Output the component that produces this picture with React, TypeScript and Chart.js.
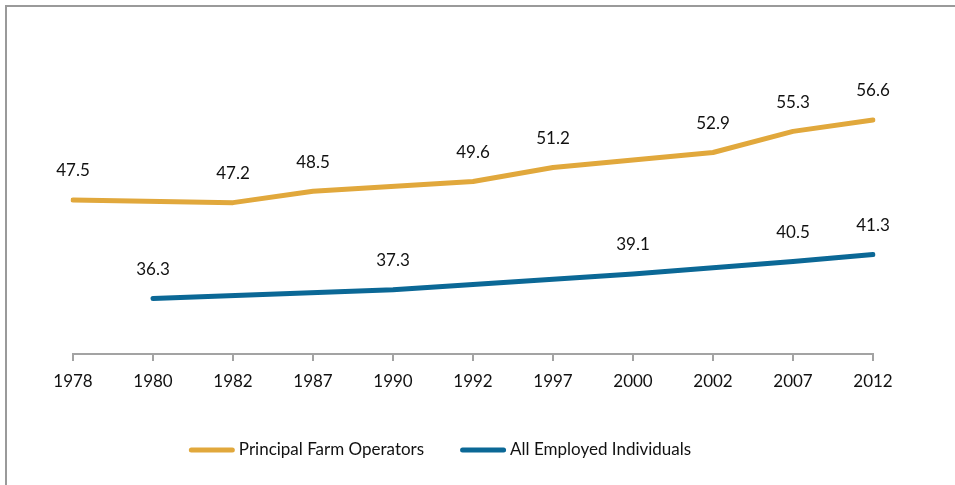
import React, { useEffect, useRef } from "react";
import { Chart, registerables } from "chart.js";

Chart.register(...registerables);

const categories = ["1978", "1980", "1982", "1987", "1990", "1992", "1997", "2000", "2002", "2007", "2012"];
const farmOperators: (number | null)[] = [47.5, null, 47.2, 48.5, null, 49.6, 51.2, null, 52.9, 55.3, 56.6];
const employedIndividuals: (number | null)[] = [null, 36.3, null, null, 37.3, null, null, 39.1, null, 40.5, 41.3];
const seriesNames = ["Principal Farm Operators", "All Employed Individuals"];
const seriesColors = ["#E1A83C", "#0B6896"];

const FONT = "Lato, 'Noto Sans', sans-serif";

const framePlugin = {
  id: "frame",
  beforeDraw(chart: any) {
    const ctx = chart.ctx;
    ctx.save();
    ctx.fillStyle = "#ffffff";
    ctx.fillRect(0, 0, chart.width, chart.height);
    ctx.strokeStyle = "#9a9a9a";
    ctx.lineWidth = 2;
    ctx.beginPath();
    ctx.moveTo(6, chart.height + 5);
    ctx.lineTo(6, 6);
    ctx.lineTo(chart.width + 5, 6);
    ctx.stroke();
    ctx.restore();
  },
};

const labelPlugin = {
  id: "valueLabels",
  afterDatasetsDraw(chart: any) {
    const ctx = chart.ctx;
    ctx.save();
    ctx.font = `17px ${FONT}`;
    ctx.fillStyle = "#111111";
    ctx.textAlign = "center";
    ctx.textBaseline = "middle";
    chart.data.datasets.forEach((ds: any, i: number) => {
      const meta = chart.getDatasetMeta(i);
      meta.data.forEach((pt: any, j: number) => {
        const v = ds.data[j];
        if (v === null || v === undefined) return;
        ctx.fillText(Number(v).toFixed(1), pt.x, pt.y - 29);
      });
    });
    ctx.restore();
  },
};

const legendPlugin = {
  id: "customLegend",
  afterDraw(chart: any) {
    const ctx = chart.ctx;
    ctx.save();
    ctx.font = `17px ${FONT}`;
    ctx.textBaseline = "middle";
    ctx.textAlign = "left";
    const y = 450;
    const swatch = 46;
    const gapText = 4;
    const gapItem = 36;
    const widths = seriesNames.map((n) => ctx.measureText(n).width);
    const total = widths.reduce((a, w) => a + swatch + gapText + w, 0) + gapItem;
    let x = 440 - total / 2;
    seriesNames.forEach((name, i) => {
      ctx.strokeStyle = seriesColors[i];
      ctx.lineWidth = 5;
      ctx.lineCap = "round";
      ctx.beginPath();
      ctx.moveTo(x + 2.5, y);
      ctx.lineTo(x + swatch - 2.5, y);
      ctx.stroke();
      ctx.fillStyle = "#111111";
      ctx.fillText(name, x + swatch + gapText, y);
      x += swatch + gapText + widths[i] + gapItem;
    });
    ctx.restore();
  },
};

export default function App() {
  const ref = useRef<HTMLCanvasElement | null>(null);
  useEffect(() => {
    if (!ref.current) return;
    const chart = new Chart(ref.current, {
      type: "line",
      data: {
        labels: categories,
        datasets: [
          {
            label: seriesNames[0],
            data: farmOperators,
            borderColor: seriesColors[0],
            backgroundColor: seriesColors[0],
            borderWidth: 5,
            borderCapStyle: "round",
            borderJoinStyle: "round",
            pointRadius: 0,
            spanGaps: true,
            tension: 0,
          },
          {
            label: seriesNames[1],
            data: employedIndividuals,
            borderColor: seriesColors[1],
            backgroundColor: seriesColors[1],
            borderWidth: 5,
            borderCapStyle: "round",
            borderJoinStyle: "round",
            pointRadius: 0,
            spanGaps: true,
            tension: 0,
          },
        ],
      },
      options: {
        responsive: false,
        animation: false,
        layout: { padding: { left: 73, right: 82, top: 90, bottom: 81 } },
        plugins: { legend: { display: false }, tooltip: { enabled: false } },
        scales: {
          x: {
            offset: false,
            border: { display: true, color: "#a3a3a3", width: 2 },
            grid: { display: true, drawOnChartArea: false, drawTicks: true, tickLength: 7, color: "#a3a3a3", lineWidth: 2 },
            ticks: { color: "#111111", font: { family: FONT, size: 17 }, padding: 10, maxRotation: 0, autoSkip: false },
            afterFit: (s: any) => { s.height = 50; },
          },
          y: {
            display: false,
            min: 30,
            max: 60,
          },
        },
      },
      plugins: [framePlugin, labelPlugin, legendPlugin],
    });
    return () => chart.destroy();
  }, []);
  return (
    <div style={{ position: "absolute", left: 0, top: 0, width: 955, height: 485 }}>
      <canvas ref={ref} width={955} height={485} style={{ display: "block" }} />
    </div>
  );
}
